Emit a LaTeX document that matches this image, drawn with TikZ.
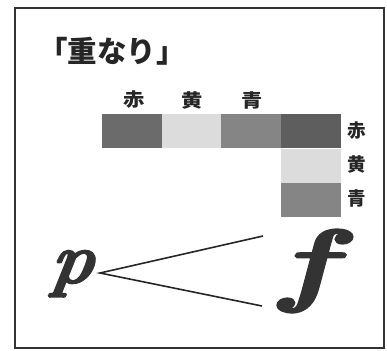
\documentclass[tikz,border=0pt]{standalone}
\usepackage{fontspec}
\newfontfamily\cjk{Noto Sans CJK JP}
\newfontfamily\dynfont{lmroman10-bolditalic.otf}[FakeBold=2.2]
\definecolor{cRed}{HTML}{6B6B6B}
\definecolor{cYel}{HTML}{DCDCDC}
\definecolor{cBlu}{HTML}{858585}
\definecolor{cMix}{HTML}{5E5E5E}
\definecolor{frameC}{HTML}{333333}
\begin{document}
\begin{tikzpicture}[x=1pt,y=-1pt,
  lbl/.style={font=\cjk\bfseries\fontsize{18.5}{18.5}\selectfont, inner sep=0pt, text=black!85},
  cell/.style={draw=none, minimum width=60pt, minimum height=34pt, inner sep=0pt, anchor=north west},
  dyn/.style={inner sep=0pt, text=black!80, anchor=base}]
\useasboundingbox (0,0) rectangle (387,350);
\draw[frameC, line width=1.8pt] (15,8) rectangle (384,348);
\node[font=\cjk\bfseries\fontsize{29.5}{29.5}\selectfont, anchor=west, inner sep=0pt, text=black!85] (title) at (38,51) {「重なり」};
% top labels
\node[lbl, xscale=1.15] (tR) at (134,100) {赤};
\node[lbl, xscale=1.15] (tY) at (192,100) {黄};
\node[lbl, xscale=1.15] (tB) at (252,100) {青};
% cells
\node[cell, fill=cRed] (c1) at (102,114) {};
\node[cell, fill=cYel] (c2) at (162,114) {};
\node[cell, fill=cBlu] (c3) at (221,114) {};
\node[cell, fill=cMix] (c4) at (281,114) {};
\node[cell, fill=cYel] (c5) at (281,149) {};
\node[cell, fill=cBlu] (c6) at (281,183) {};
% right labels
\node[lbl] (rR) at (356.5,130.5) {赤};
\node[lbl] (rY) at (356.5,164.5) {黄};
\node[lbl] (rB) at (356.5,198.5) {青};
% dynamics
\node[dyn, font=\dynfont\fontsize{72}{72}\selectfont, xslant=0.15] (p) at (70,283) {p};
\node[dyn, font=\dynfont\fontsize{92}{92}\selectfont, xscale=1.45] (f) at (307,294) {f};
\coordinate (apex) at (100,273);
\coordinate (topE) at (263,236);
\coordinate (botE) at (262,306);
\draw[line width=1.6pt, black!85] (topE) -- (apex) -- (botE);
\end{tikzpicture}
\end{document}
